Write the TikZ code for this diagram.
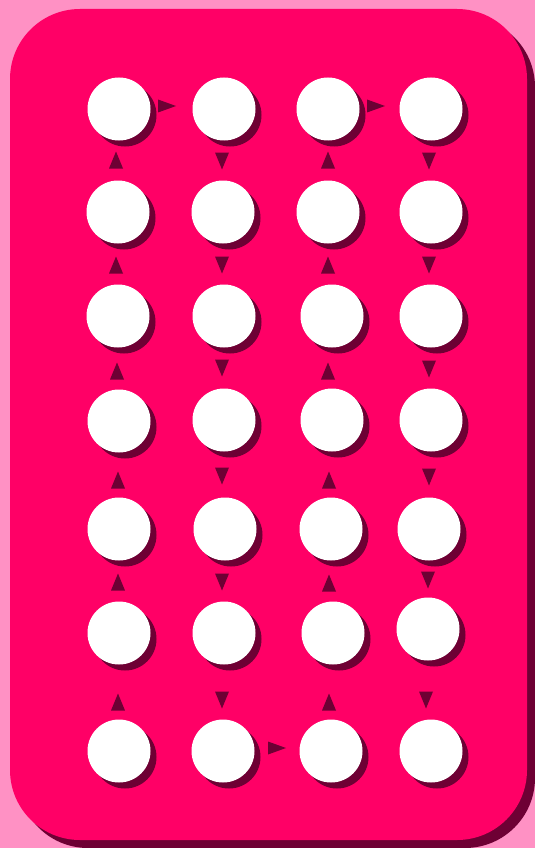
\documentclass[tikz,border=0pt]{standalone}
\usetikzlibrary{shadows}
\definecolor{bgpink}{RGB}{255,145,196}
\definecolor{hot}{RGB}{255,0,102}
\definecolor{dark}{RGB}{110,0,52}
\tikzset{
  dot/.style={circle, fill=white, inner sep=0pt, minimum size=63pt,
    general shadow={shadow xshift=6pt, shadow yshift=-6pt, fill=dark}},
  mark up/.style={fill=dark},
}
\newcommand{\triup}[1]{\fill[dark] (#1) ++(-7,8.5) -- ++(14,0) -- ++(-7,-17) -- cycle;}
\newcommand{\tridown}[1]{\fill[dark] (#1) ++(-7,-8.5) -- ++(14,0) -- ++(-7,17) -- cycle;}
\newcommand{\triright}[1]{\fill[dark] (#1) ++(-9,-6.5) -- ++(0,13) -- ++(18,-6.5) -- cycle;}
\begin{document}
\begin{tikzpicture}[x=1pt,y=-1pt]
\useasboundingbox (0,0) rectangle (535,848);
\fill[bgpink] (0,0) rectangle (535,848);
\fill[dark, rounded corners=70pt] (18,17) rectangle (535,848);
\fill[hot, rounded corners=70pt] (10,9) rectangle (527,840);
% circles
\node[dot] (a1) at (119,109) {};
\node[dot] (a2) at (118,212) {};
\node[dot] (a3) at (118,316) {};
\node[dot] (a4) at (119,421) {};
\node[dot] (a5) at (119,529) {};
\node[dot] (a6) at (119,633) {};
\node[dot] (a7) at (119,751) {};
\node[dot] (b1) at (224,109) {};
\node[dot] (b2) at (223,212) {};
\node[dot] (b3) at (224,316) {};
\node[dot] (b4) at (224,420) {};
\node[dot] (b5) at (225,529) {};
\node[dot] (b6) at (224,633) {};
\node[dot] (b7) at (223,751) {};
\node[dot] (c1) at (328,109) {};
\node[dot] (c2) at (328,212) {};
\node[dot] (c3) at (332,316) {};
\node[dot] (c4) at (332,420) {};
\node[dot] (c5) at (331,529) {};
\node[dot] (c6) at (333,633) {};
\node[dot] (c7) at (331,751) {};
\node[dot] (d1) at (431,109) {};
\node[dot] (d2) at (431,212) {};
\node[dot] (d3) at (431,316) {};
\node[dot] (d4) at (431,420) {};
\node[dot] (d5) at (429,529) {};
\node[dot] (d6) at (428,629) {};
\node[dot] (d7) at (431,751) {};
% arrow markers
\coordinate (ua1) at (116,160); \coordinate (ua2) at (116,265); \coordinate (ua3) at (117,371);
\coordinate (ua4) at (118,480); \coordinate (ua5) at (118,582); \coordinate (ua6) at (118,702);
\foreach \p in {ua1,ua2,ua3,ua4,ua5,ua6} {\triup{\p}}
\coordinate (db1) at (222,161); \coordinate (db2) at (222,265); \coordinate (db3) at (222,368);
\coordinate (db4) at (222,476); \coordinate (db5) at (222,582); \coordinate (db6) at (222,700);
\foreach \p in {db1,db2,db3,db4,db5,db6} {\tridown{\p}}
\coordinate (uc1) at (328,160); \coordinate (uc2) at (328,265); \coordinate (uc3) at (328,371);
\coordinate (uc4) at (329,480); \coordinate (uc5) at (329,583); \coordinate (uc6) at (329,702);
\foreach \p in {uc1,uc2,uc3,uc4,uc5,uc6} {\triup{\p}}
\coordinate (dd1) at (429,161); \coordinate (dd2) at (429,265); \coordinate (dd3) at (429,369);
\coordinate (dd4) at (429,477); \coordinate (dd5) at (428,580); \coordinate (dd6) at (426,700);
\foreach \p in {dd1,dd2,dd3,dd4,dd5,dd6} {\tridown{\p}}
\coordinate (rab) at (167,106); \coordinate (rcd) at (376,106); \coordinate (rbc) at (277,748);
\foreach \p in {rab,rcd,rbc} {\triright{\p}}
\end{tikzpicture}
\end{document}
